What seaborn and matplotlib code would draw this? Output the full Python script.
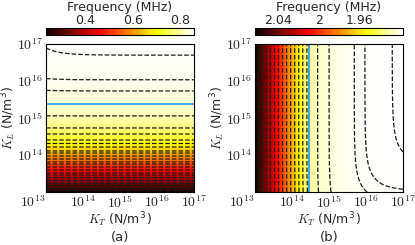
import numpy as np
import matplotlib
matplotlib.use("Agg")
import matplotlib.pyplot as plt
import seaborn as sns
from matplotlib.ticker import NullLocator, FixedLocator, FixedFormatter

# ---------------- data ----------------
# (a) frequency (MHz) along log10(K_L) (K_T large)
kl_exp_a = [13.0, 13.054, 13.108, 13.189, 13.243, 13.324, 13.405, 13.459, 13.514,
            13.595, 13.676, 13.757, 13.811, 13.892, 13.973, 14.054, 14.108, 14.216,
            14.311, 14.405, 14.568, 14.73, 15.054, 15.73, 16.03, 16.70, 17.0]
freq_a = [0.238, 0.265, 0.2905, 0.316, 0.3415, 0.367, 0.3925, 0.418, 0.4435,
          0.469, 0.4945, 0.520, 0.5455, 0.571, 0.5965, 0.622, 0.6475, 0.673,
          0.6985, 0.724, 0.7495, 0.775, 0.812, 0.838, 0.846, 0.852, 0.856]
coupling_a = 1.37e4          # K_T coupling seen in top-left bend of (a)
marker_a = 10 ** 15.38       # blue line, K_L

# (b) frequency (MHz) along log10(K_T) (K_L large)
kt_exp_b = [13.0, 13.09, 13.199, 13.308, 13.418, 13.527, 13.636, 13.745, 13.854,
            13.964, 14.073, 14.182, 14.291, 14.40, 14.69, 15.0, 15.68, 15.97,
            16.71, 17.0]
freq_b = [2.062, 2.055, 2.045, 2.035, 2.025, 2.015, 2.005, 1.995, 1.985, 1.975,
          1.965, 1.955, 1.945, 1.935, 1.927, 1.923, 1.9195, 1.919, 1.9183, 1.918]
coupling_b = 870.0           # K_L coupling seen in bottom-right bend of (b)
marker_b = 10 ** 14.46       # blue line, K_T

x_ticks = [1e13, 1e14, 1e15, 1e16, 1e17]
x_ticklabels = [r"$10^{13}$", r"$10^{14}$", r"$10^{15}$", r"$10^{16}$", r"$10^{17}$"]
y_ticks = [1e13, 1e14, 1e15, 1e16, 1e17]
y_ticklabels = ["", r"$10^{14}$", r"$10^{15}$", r"$10^{16}$", r"$10^{17}$"]
cbar_a_major = [0.4, 0.6, 0.8]
cbar_a_minor = [0.3, 0.5, 0.7]
cbar_a_labels = ["0.4", "0.6", "0.8"]
cbar_b_major = [2.04, 2.0, 1.96]
cbar_b_minor = [2.06, 2.02, 1.98, 1.94]
cbar_b_labels = ["2.04", "2", "1.96"]

# ---------------- style ----------------
sns.set_theme(style="white")
plt.rcParams["font.family"] = ["DejaVu Sans"]
plt.rcParams["mathtext.fontset"] = "cm"
plt.rcParams["font.size"] = 9
plt.rcParams["axes.edgecolor"] = "black"
plt.rcParams["axes.linewidth"] = 0.8

hot = sns.color_palette("hot", as_cmap=True)
hot_r = hot.reversed()

W, H = 415, 245
fig = plt.figure(figsize=(W / 100, H / 100), dpi=100)


def rect(x0, y0, x1, y1):
    return [x0 / W, 1 - y1 / H, (x1 - x0) / W, (y1 - y0) / H]


u = np.linspace(13, 17, 300)
KT, KL = np.meshgrid(10 ** u, 10 ** u)

Fa = np.interp(np.log10(1.0 / (1.0 / KL + 1.0 / (coupling_a * KT))), kl_exp_a, freq_a)
Fb = np.interp(np.log10(1.0 / (1.0 / KT + 1.0 / (coupling_b * KL))), kt_exp_b, freq_b)


def draw(ax, cax, F, cmap, levels, major, minor, labels, invert):
    vmin, vmax = F.min(), F.max()
    m = ax.pcolormesh(KT, KL, F, shading="gouraud", cmap=cmap, vmin=vmin, vmax=vmax,
                      rasterized=True)
    ax.contour(KT, KL, F, levels=sorted(levels), colors="k", linestyles="--",
               linewidths=0.9)
    ax.set_xscale("log")
    ax.set_yscale("log")
    ax.set_xlim(1e13, 1e17)
    ax.set_ylim(1e13, 1e17)
    ax.set_xticks(x_ticks)
    ax.set_xticklabels(x_ticklabels)
    ax.set_yticks(y_ticks)
    ax.set_yticklabels(y_ticklabels)
    ax.get_xticklabels()[0].set_horizontalalignment("right")
    ax.xaxis.set_minor_locator(NullLocator())
    ax.yaxis.set_minor_locator(NullLocator())
    ax.tick_params(direction="in", length=3, width=0.6, top=True, right=True,
                   labelsize=10, pad=2)
    ax.set_xlabel(r"$K_T$ (N/m$^{\mathdefault{3}}$)", fontsize=9)
    ax.set_ylabel(r"$K_L$ (N/m$^{\mathdefault{3}}$)", fontsize=9)
    ax.xaxis.set_label_coords(0.5, -0.125)
    ax.yaxis.set_label_coords(-0.19, 0.5)
    for s in ax.spines.values():
        s.set_visible(True)
        s.set_color("black")

    cb = fig.colorbar(m, cax=cax, orientation="horizontal")
    cb.outline.set_edgecolor("black")
    cb.outline.set_linewidth(0.8)
    if invert:
        cax.invert_xaxis()
    cax.xaxis.set_ticks_position("top")
    cax.xaxis.set_label_position("top")
    cax.xaxis.set_major_locator(FixedLocator(major))
    cax.xaxis.set_major_formatter(FixedFormatter(labels))
    cax.xaxis.set_minor_locator(FixedLocator(minor))
    cax.tick_params(which="both", direction="in", length=2, width=0.6,
                    top=True, bottom=True, labelsize=9, pad=1)
    cax.set_xlabel("Frequency (MHz)", fontsize=9, labelpad=2)


ax_a = fig.add_axes(rect(46, 44, 194, 192))
cax_a = fig.add_axes(rect(46, 28, 194, 35))
draw(ax_a, cax_a, Fa, hot, freq_a[1:-1], cbar_a_major, cbar_a_minor, cbar_a_labels, False)
ax_a.axhline(marker_a, color="#0a8cff", lw=1.1)

ax_b = fig.add_axes(rect(255, 44, 403, 192))
cax_b = fig.add_axes(rect(255, 28, 403, 35))
draw(ax_b, cax_b, Fb, hot_r, freq_b[1:-1], cbar_b_major, cbar_b_minor, cbar_b_labels, True)
ax_b.axvline(marker_b, color="#0a8cff", lw=1.1)

fig.text(120 / W, 1 - 237 / H, "(a)", ha="center", va="center", fontsize=9.5)
fig.text(329 / W, 1 - 237 / H, "(b)", ha="center", va="center", fontsize=9.5)

fig.savefig("out.png", dpi=100)
